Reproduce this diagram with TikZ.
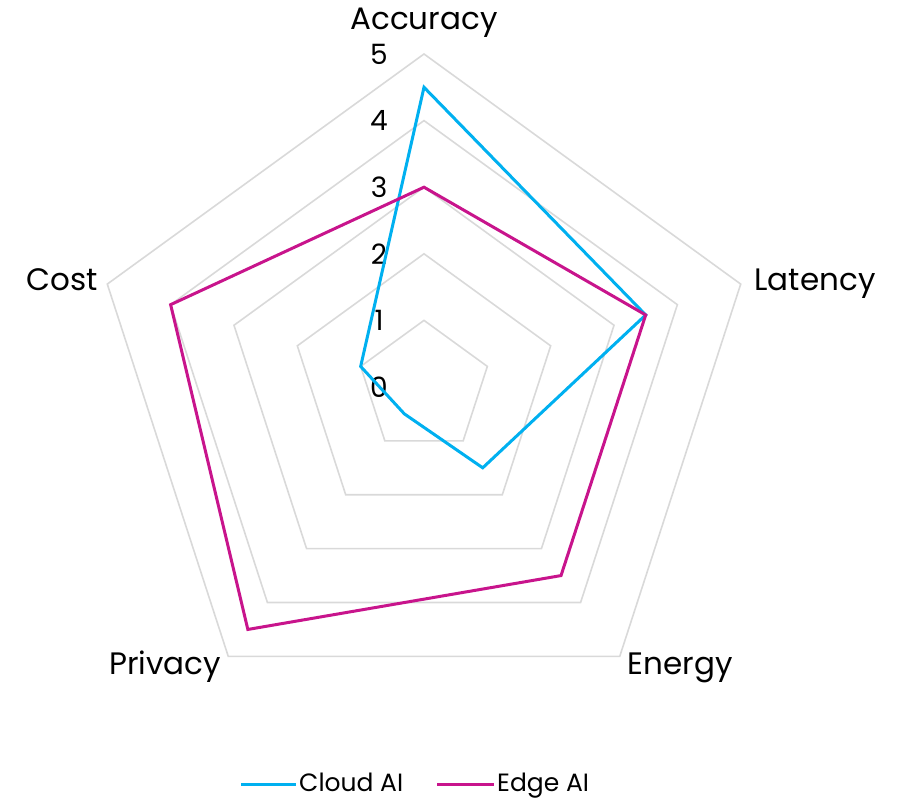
\documentclass[tikz,border=0pt]{standalone}
\usepackage{fontspec}
\setmainfont{Poppins}
\definecolor{cloudc}{HTML}{00B0F0}
\definecolor{edgec}{HTML}{C8148C}
\definecolor{gridc}{HTML}{D9D9D9}
\tikzset{
  gridring/.style={draw=gridc, line width=1.6pt, line join=miter},
  series/.style={line width=3pt, line join=miter},
  axislabel/.style={font=\fontsize{31}{36}\selectfont, inner sep=0pt, anchor=base},
  ticklabel/.style={font=\fontsize{28}{32}\selectfont, inner sep=0pt},
  legendtext/.style={font=\fontsize{25}{30}\selectfont, inner sep=0pt, anchor=base west}
}
\begin{document}
\begin{tikzpicture}[x=1pt,y=1pt]
\useasboundingbox (0,0) rectangle (905,800);
\def\u{66.6}
\begin{scope}[shift={(424,413)}]
  % concentric pentagons for levels 1..5
  \foreach \k in {1,...,5}{
    \draw[gridring] (90:{\k*\u}) -- (18:{\k*\u}) -- (-54:{\k*\u}) -- (-126:{\k*\u}) -- (162:{\k*\u}) -- cycle;
  }
  % scale values
  \foreach \k in {0,...,5}{
    \node[ticklabel] (tick\k) at (-45,{\k*\u}) {\k};
  }
  % data points: Accuracy, Latency, Energy, Privacy, Cost
  \coordinate (cA) at (90:{4.5*\u});
  \coordinate (cL) at (18:{3.5*\u});
  \coordinate (cE) at (-54:{1.5*\u});
  \coordinate (cP) at (-126:{0.5*\u});
  \coordinate (cC) at (162:{1.0*\u});
  \coordinate (eA) at (90:{3.0*\u});
  \coordinate (eL) at (18:{3.5*\u});
  \coordinate (eE) at (-54:{3.5*\u});
  \coordinate (eP) at (-126:{4.5*\u});
  \coordinate (eC) at (162:{4.0*\u});
  \draw[series, draw=cloudc] (cA) -- (cL) -- (cE) -- (cP) -- (cC) -- cycle;
  \draw[series, draw=edgec] (eA) -- (eL) -- (eE) -- (eP) -- (eC) -- cycle;
\end{scope}
% axis names
\node[axislabel] (accuracy) at (424,770) {Accuracy};
\node[axislabel] (latency) at (815,509) {Latency};
\node[axislabel] (energy) at (680,125) {Energy};
\node[axislabel] (privacy) at (165,125) {Privacy};
\node[axislabel] (cost) at (62,509) {Cost};
% legend
\coordinate (lc1) at (241,15);
\coordinate (lc2) at (296,15);
\draw[series, draw=cloudc] (lc1) -- (lc2);
\node[legendtext] (legcloud) at (299,8) {Cloud AI};
\coordinate (le1) at (437,15);
\coordinate (le2) at (494,15);
\draw[series, draw=edgec] (le1) -- (le2);
\node[legendtext] (legedge) at (497,8) {Edge AI};
\end{tikzpicture}
\end{document}
